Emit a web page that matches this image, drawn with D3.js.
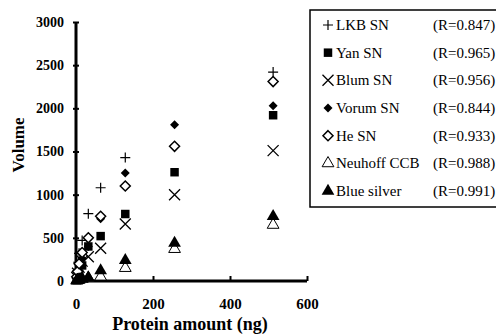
<!DOCTYPE html>
<html>
<head>
<meta charset="utf-8">
<script src="https://cdn.jsdelivr.net/npm/d3@7"></script>
<style>
  body { margin: 0; background: #fff; }
  svg { display: block; }
</style>
</head>
<body>
<div class="svgContainer"></div>
<script>
const amounts = [2, 4, 8, 16, 32, 64, 128, 256, 512];
const seriesNames = ['LKB SN', 'Yan SN', 'Blum SN', 'Vorum SN', 'He SN', 'Neuhoff CCB', 'Blue silver'];
const rValues = ['0.847', '0.965', '0.956', '0.844', '0.933', '0.988', '0.991'];
const lkb = [40, 120, 320, 470, 780, 1080, 1430, null, 2420];
const yan = [10, 30, 80, 180, 400, 520, 776, 1260, 1920];
const blum = [40, 90, 160, 230, 280, 380, 660, 1000, 1510];
const vorum = [20, 50, 120, 260, 400, 720, 1250, 1810, 2030];
const he = [50, 110, 200, 330, 500, 750, 1100, 1560, 2310];
const neuhoff = [5, 10, 15, 25, 35, 50, 150, 370, 650];
const blueSilver = [5, 10, 15, 25, 40, 120, 240, 440, 750];
const xTicks = [0, 200, 400, 600];
const yTicks = [0, 500, 1000, 1500, 2000, 2500, 3000];

const width = 496, height = 334;
const SERIF = "'Liberation Serif'";

const svg = d3.select('.svgContainer')
    .append('svg')
    .attr('width', width)
    .attr('height', height);

const x = d3.scaleLinear().domain([0, 600]).range([76, 307]);
const y = d3.scaleLinear().domain([0, 3000]).range([281, 22]);

// marker shapes
const cross = s => `M${-s},0H${s}M0,${-s}V${s}`;
const ex = s => `M${-s},${-s}L${s},${s}M${-s},${s}L${s},${-s}`;
const diamond = s => `M0,${-s}L${s},0L0,${s}L${-s},0Z`;
const sym = (type, size) => d3.symbol().type(type).size(size)();

const markers = [
    {path: cross(5), fill: 'none', stroke: '#000', sw: 1.2},
    {path: sym(d3.symbolSquare, 72), fill: '#000', stroke: 'none', sw: 0},
    {path: ex(5.5), fill: 'none', stroke: '#000', sw: 1.3},
    {path: diamond(4.5), fill: '#000', stroke: 'none', sw: 0},
    {path: diamond(5), fill: '#fff', stroke: '#000', sw: 1.5},
    {path: sym(d3.symbolTriangle, 60), fill: '#fff', stroke: '#000', sw: 1},
    {path: sym(d3.symbolTriangle, 70), fill: '#000', stroke: 'none', sw: 0}
];

const allSeries = [lkb, yan, blum, vorum, he, neuhoff, blueSilver];

// axes
const xAxis = svg.append('g')
    .attr('transform', `translate(0,${y(0)})`)
    .call(d3.axisBottom(x).tickValues(xTicks).tickSize(-5).tickFormat(d3.format('d')).tickPadding(17));
xAxis.select('.domain').attr('stroke-width', 3).attr('d', `M${x(0)},0H${x(600)}`);
xAxis.selectAll('.tick line').attr('stroke-width', 2);
xAxis.selectAll('.tick text')
    .style('font-family', SERIF)
    .style('font-weight', 'bold')
    .style('font-size', '15px');

const yAxis = svg.append('g')
    .attr('transform', `translate(${x(0)},0)`)
    .call(d3.axisLeft(y).tickValues(yTicks).tickSize(3).tickPadding(9).tickFormat(d3.format('d')));
yAxis.select('.domain').attr('stroke-width', 3).attr('d', `M0,${y(3000)}V${y(0)}`);
yAxis.selectAll('.tick line').attr('stroke-width', 2).attr('x1', 3);
yAxis.selectAll('.tick text')
    .style('font-family', SERIF)
    .style('font-weight', 'bold')
    .style('font-size', '14px');

// titles
svg.append('text')
    .attr('x', 190).attr('y', 330)
    .attr('text-anchor', 'middle')
    .style('font-family', SERIF)
    .style('font-weight', 'bold')
    .style('font-size', '18px')
    .text('Protein amount (ng)');

svg.append('text')
    .attr('transform', 'translate(24,145) rotate(-90)')
    .attr('text-anchor', 'middle')
    .style('font-family', SERIF)
    .style('font-weight', 'bold')
    .style('font-size', '17px')
    .text('Volume');

// points
allSeries.forEach((vals, i) => {
    const m = markers[i];
    svg.append('g')
        .selectAll('path')
        .data(amounts.map((a, j) => ({a, v: vals[j]})).filter(d => d.v != null))
        .enter().append('path')
        .attr('d', m.path)
        .attr('transform', d => `translate(${x(d.a)},${y(d.v)})`)
        .attr('fill', m.fill)
        .attr('stroke', m.stroke)
        .attr('stroke-width', m.sw);
});

// legend
const legend = svg.append('g');
legend.append('rect')
    .attr('x', 310).attr('y', 10)
    .attr('width', 200).attr('height', 197)
    .attr('fill', '#fff')
    .attr('stroke', '#000')
    .attr('stroke-width', 1.5);

const rowY = d3.scaleLinear().domain([0, 6]).range([25, 191]);
seriesNames.forEach((name, i) => {
    const m = markers[i];
    const g = legend.append('g').attr('transform', `translate(0,${rowY(i)})`);
    g.append('path')
        .attr('d', m.path)
        .attr('transform', 'translate(328,0)')
        .attr('fill', m.fill)
        .attr('stroke', m.stroke)
        .attr('stroke-width', m.sw);
    g.append('text')
        .attr('x', 336).attr('y', 5)
        .style('font-family', SERIF)
        .style('font-size', '15px')
        .text(name);
    g.append('text')
        .attr('x', 433).attr('y', 5)
        .style('font-family', SERIF)
        .style('font-size', '15px')
        .text(`(R=${rValues[i]})`);
});
</script>
</body>
</html>
